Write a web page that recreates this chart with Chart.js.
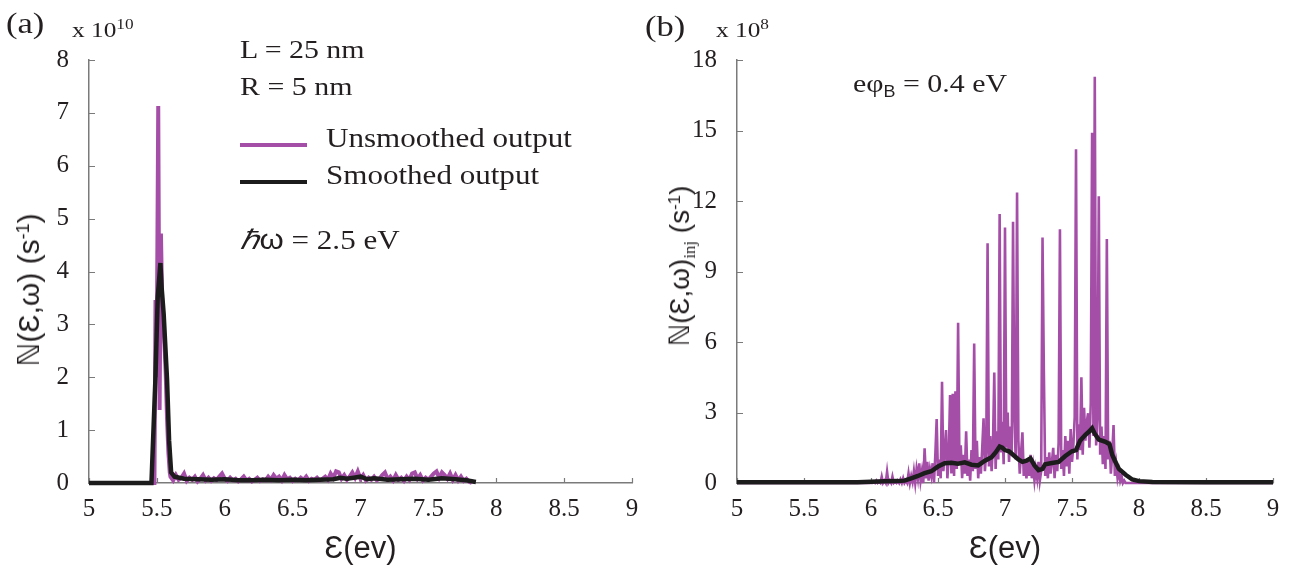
<!DOCTYPE html>
<html>
<head>
<meta charset="utf-8">
<script src="https://cdn.jsdelivr.net/npm/chart.js@4.4.1/dist/chart.umd.min.js"></script>
<style>
  body { margin: 0; background: #fff; }
  #wrap { position: relative; width: 1306px; height: 577px; overflow: hidden; }
  canvas { position: absolute; top: 0; }
  .t { position: absolute; font-family: 'Liberation Serif', 'Times New Roman', serif; color: #231f20;
       white-space: nowrap; line-height: 1; transform-origin: left top; transform: scaleX(1.15); }
  .sans { font-family: 'Liberation Sans', 'DejaVu Sans', sans-serif; }
  .sup { font-size: 60%; position: relative; top: -0.55em; }
  .sub { font-size: 60%; position: relative; top: 0.35em; }
  .yt { position: absolute; font-family: 'Liberation Sans', 'DejaVu Sans', sans-serif; color: #231f20;
        white-space: nowrap; line-height: 1;
        transform: translate(-50%, -50%) rotate(-90deg); }
  .key { position: absolute; height: 4px; width: 67px; }
</style>
</head>
<body>
<div id="wrap">
  <canvas id="left" width="653" height="577" style="left:0"></canvas>
  <canvas id="right" width="653" height="577" style="left:653px"></canvas>

  <div class="t" style="left:6px; top:8px; font-size:30px;">(a)</div>
  <div class="t" style="left:72px; top:19px; font-size:22px;">x 10<span class="sup" style="font-size:15px">10</span></div>
  <div class="t" style="left:240px; top:37px; font-size:26px;">L = 25 nm</div>
  <div class="t" style="left:240px; top:74px; font-size:26px;">R = 5 nm</div>
  <div class="key" style="left:240px; top:143px; background:#a54ea8;"></div>
  <div class="t" style="left:326px; top:125px; font-size:27px;">Unsmoothed output</div>
  <div class="key" style="left:240px; top:180px; background:#1c1c1c;"></div>
  <div class="t" style="left:326px; top:162px; font-size:27px;">Smoothed output</div>
  <div class="t" style="left:240px; top:227px; font-size:27px;"><i>ℏ</i><span class="sans">ω</span> = 2.5 eV</div>
  <div class="yt" style="left:29px; top:290px; font-size:30px;">ℕ(Ɛ,ω) (s<span class="sup">-1</span>)</div>

  <div class="t" style="left:645px; top:11px; font-size:30px;">(b)</div>
  <div class="t" style="left:716px; top:19px; font-size:22px;">x 10<span class="sup" style="font-size:15px">8</span></div>
  <div class="t" style="left:853px; top:71px; font-size:26px;">eφ<span class="sub sans">B</span> = 0.4 eV</div>
  <div class="yt" style="left:680px; top:266px; font-size:28px;">ℕ(Ɛ,ω)<span class="sub" style="font-family:'Liberation Serif',serif">inj</span> (s<span class="sup">-1</span>)</div>
</div>

<script>
// axis ticks
var xTicks = [5, 5.5, 6, 6.5, 7, 7.5, 8, 8.5, 9];
var leftYTicks = [0, 1, 2, 3, 4, 5, 6, 7, 8];
var rightYTicks = [0, 3, 6, 9, 12, 15, 18];

// (a) unsmoothed output, x 10^10 s^-1 -- the main peak near 5.5 eV
var leftPeakE = [5.0, 5.482, 5.49, 5.498, 5.51, 5.52, 5.53, 5.54, 5.55, 5.565, 5.575, 5.585, 5.595];
var leftPeakV = [0, 0, 3.46, 2.0, 7.13, 1.38, 4.72, 3.27, 3.0, 2.07, 1.2, 0.57, 0.2];
// (a) unsmoothed tail, sampled every 0.02 eV from 5.60 eV
var leftTailStart = 5.60, leftTailStep = 0.02;
var leftTail = [
  0.12, 0.05, 0.15, 0.06, 0.1, 0.18, 0.04, 0.1, 0.06, 0.12,
  0.03, 0.08, 0.15, 0.05, 0.1, 0.04, 0.09, 0.06, 0.12, 0.18,
  0.08, 0.04, 0.1, 0.05, 0.08, 0.03, 0.07, 0.12, 0.05, 0.08,
  0.03, 0.06, 0.1, 0.04, 0.07, 0.05, 0.12, 0.06, 0.15, 0.08,
  0.12, 0.05, 0.15, 0.07, 0.1, 0.04, 0.08, 0.05, 0.1, 0.06,
  0.12, 0.04, 0.08, 0.06, 0.1, 0.05, 0.08, 0.12, 0.06, 0.18,
  0.1, 0.22, 0.2, 0.08, 0.15, 0.06, 0.12, 0.2, 0.1, 0.22,
  0.08, 0.15, 0.05, 0.1, 0.06, 0.12, 0.05, 0.08, 0.15, 0.2,
  0.07, 0.12, 0.05, 0.15, 0.06, 0.1, 0.04, 0.12, 0.06, 0.18,
  0.2, 0.08, 0.15, 0.05, 0.1, 0.06, 0.12, 0.18, 0.22, 0.1,
  0.2, 0.15, 0.08, 0.18, 0.06, 0.15, 0.05, 0.12, 0.04, 0.08,
  0.02, 0
];
// (a) smoothed output
var leftSmoothE = [5.0, 5.46, 5.489, 5.506, 5.526, 5.535, 5.55, 5.575, 5.59, 5.605, 5.63, 5.7, 5.8, 5.9,
  6.0, 6.1, 6.2, 6.3, 6.4, 6.5, 6.6, 6.7, 6.8, 6.85, 6.9, 6.95, 7.0, 7.05, 7.1, 7.2, 7.3, 7.4,
  7.5, 7.6, 7.7, 7.78, 7.85];
var leftSmoothV = [0, 0, 1.95, 3.5, 4.16, 3.7, 3.2, 1.95, 0.8, 0.2, 0.12, 0.08, 0.07, 0.06,
  0.07, 0.05, 0.05, 0.06, 0.05, 0.06, 0.05, 0.06, 0.07, 0.1, 0.08, 0.1, 0.12, 0.07, 0.09, 0.06, 0.07, 0.08,
  0.06, 0.09, 0.07, 0.05, 0.02];

// (b) unsmoothed injected output, x 10^8 s^-1, sampled every 0.01 eV from 6.00 eV
var rightRawStart = 6.00, rightRawStep = 0.01;
var rightRaw = [
  0, 0, 0.05, 0, 0.1, 0, 0.05, 0, 0.27, 0,
  0.1, 0, 0.48, 0, 0.1, 0, 0.27, 0, 0.05, 0,
  0.1, 0, 0.15, 0, 0.2, 0, 0.1, 0, 0.41, 0,
  0.3, 0.05, 0.5, 0, 0.6, 0.2, 0.84, 0.1, 0.5, 0,
  1.48, 0.2, 0.9, 0.1, 0.6, 0.3, 0.84, 0, 1.2, 2.72,
  0.3, 1.0, 0.2, 4.31, 0.5, 1.3, 2.25, 0.2, 1.1, 3.74,
  0.4, 3.8, 0.3, 3.9, 0.6, 6.82, 0.8, 1.6, 0.2, 1.2,
  0.4, 2.2, 0.3, 1.0, 0.1, 1.4, 0.5, 5.94, 0.6, 1.8,
  0.2, 1.1, 0.4, 1.5, 2.75, 0.5, 1.3, 10.2, 0.7, 2.0,
  0.5, 1.6, 4.7, 0.6, 2.2, 1.0, 11.45, 1.3, 2.6, 0.8,
  10.87, 1.5, 3.0, 0.9, 2.4, 1.2, 11.12, 2.8, 1.0, 12.36,
  1.8, 0.4, 1.3, 2.16, 0.3, 1.0, 0.2, 0.9, 0.3, 1.2,
  0.2, 0.7, 0.1, 0.6, 0.2, 0.9, 0.1, 0.5, 10.45, 4.8,
  0.3, 1.1, 0.2, 1.3, 0.4, 0.9, 1.5, 0.2, 1.2, 0.5,
  1.7, 10.8, 0.6, 1.4, 0.3, 2.0, 0.7, 1.8, 0.4, 2.3,
  0.9, 1.6, 2.8, 14.2, 1.0, 2.5, 1.4, 4.5, 1.2, 3.2,
  1.8, 2.6, 2.97, 1.5, 3.4, 14.9, 2.0, 17.29, 1.6, 2.8,
  12.2, 1.2, 2.4, 0.8, 2.0, 0.6, 10.38, 1.0, 1.8, 0.4,
  1.2, 2.47, 0.3, 0.8, 0.2, 0.5, 0.1, 0.3, 0, 0.1,
  0
];
// (b) smoothed output
var rightSmoothE = [5.0, 5.5, 5.9, 6.0, 6.1, 6.2, 6.25, 6.3, 6.35, 6.4, 6.45, 6.5, 6.55, 6.6, 6.65,
  6.7, 6.75, 6.8, 6.85, 6.9, 6.93, 6.96, 6.98, 7.0, 7.03, 7.06, 7.1, 7.13, 7.16, 7.19, 7.22, 7.25,
  7.28, 7.3, 7.35, 7.4, 7.45, 7.5, 7.53, 7.56, 7.6, 7.63, 7.65, 7.67, 7.7, 7.75, 7.78, 7.8, 7.82,
  7.85, 7.9, 7.95, 8.0, 8.1, 8.5, 9.0];
var rightSmoothV = [0.03, 0.03, 0.03, 0.05, 0.07, 0.08, 0.1, 0.2, 0.3, 0.42, 0.5, 0.7, 0.84, 0.86, 0.82,
  0.88, 0.78, 0.75, 0.95, 1.1, 1.3, 1.55, 1.5, 1.4, 1.35, 1.2, 1.0, 0.9, 0.95, 1.05, 0.75, 0.55,
  0.6, 0.8, 0.85, 0.9, 1.15, 1.35, 1.4, 1.8, 2.05, 2.2, 2.33, 2.1, 1.85, 1.75, 1.65, 1.2, 0.95,
  0.6, 0.35, 0.15, 0.08, 0.04, 0.03, 0.03];

var purple = '#a54ea8';
var black = '#1c1c1c';
var axisColor = '#7a7a7a';
var textColor = '#231f20';

function pairs(es, vs) {
  return es.map(function (e, i) { return { x: e, y: vs[i] }; });
}
function sampled(start, step, vs) {
  return vs.map(function (v, i) { return { x: +(start + i * step).toFixed(3), y: v }; });
}

var inwardTicks = {
  id: 'inwardTicks',
  beforeDatasetsDraw: function (chart) {
    var ctx = chart.ctx, a = chart.chartArea, x = chart.scales.x, y = chart.scales.y;
    ctx.save();
    ctx.strokeStyle = axisColor;
    ctx.lineWidth = 1.2;
    ctx.beginPath();
    x.ticks.forEach(function (t) {
      var px = Math.round(x.getPixelForValue(t.value)) + 0.5;
      ctx.moveTo(px, a.bottom);
      ctx.lineTo(px, a.bottom - 5);
    });
    y.ticks.forEach(function (t) {
      var py = Math.round(y.getPixelForValue(t.value)) + 0.5;
      ctx.moveTo(a.left, py);
      ctx.lineTo(a.left + 6, py);
    });
    ctx.stroke();
    ctx.restore();
  }
};

function makeChart(id, raw, rawWidth, smooth, yTicks, yMax, pad) {
  return new Chart(document.getElementById(id), {
    type: 'line',
    data: {
      datasets: [{
        label: 'Smoothed output',
        data: smooth,
        borderColor: black,
        borderWidth: 4.5,
        pointRadius: 0,
        tension: 0,
        clip: false
      }, {
        label: 'Unsmoothed output',
        data: raw,
        borderColor: purple,
        borderWidth: rawWidth,
        pointRadius: 0,
        tension: 0,
        clip: false
      }]
    },
    options: {
      responsive: false,
      animation: false,
      devicePixelRatio: 1,
      layout: { padding: pad },
      plugins: { legend: { display: false }, tooltip: { enabled: false } },
      scales: {
        x: {
          type: 'linear',
          min: 5, max: 9,
          afterBuildTicks: function (s) { s.ticks = xTicks.map(function (v) { return { value: v }; }); },
          afterFit: function (s) { s.height = 94; },
          grid: { display: false },
          border: { display: true, color: axisColor, width: 1.5 },
          ticks: {
            color: textColor, padding: 3, maxRotation: 0, autoSkip: false,
            font: { family: "'Liberation Serif', serif", size: 25 },
            callback: function (v) { return String(v); }
          },
          title: {
            display: true, text: 'Ɛ(ev)', color: textColor,
            font: { family: "'Liberation Sans', 'DejaVu Sans', sans-serif", size: 31 },
            padding: { top: 0, bottom: 9 }
          }
        },
        y: {
          min: 0, max: yMax,
          afterBuildTicks: function (s) { s.ticks = yTicks.map(function (v) { return { value: v }; }); },
          afterFit: function (s) { s.width = 60; },
          grid: { display: false },
          border: { display: true, color: axisColor, width: 1.5 },
          ticks: {
            color: textColor, padding: 12, autoSkip: false,
            font: { family: "'Liberation Serif', serif", size: 25 },
            callback: function (v) { return String(v); }
          }
        }
      }
    },
    plugins: [inwardTicks]
  });
}

var leftRaw = pairs(leftPeakE, leftPeakV)
  .concat(sampled(leftTailStart, leftTailStep, leftTail));
var rightRawPts = [{ x: 5, y: 0 }]
  .concat(sampled(rightRawStart, rightRawStep, rightRaw))
  .concat([{ x: 9, y: 0 }]);

makeChart('left', leftRaw, 4, pairs(leftSmoothE, leftSmoothV), leftYTicks, 8,
  { left: 29, right: 21, top: 60, bottom: 0 });
makeChart('right', rightRawPts, 2.6, pairs(rightSmoothE, rightSmoothV), rightYTicks, 18,
  { left: 24, right: 33, top: 60, bottom: 0 });
</script>
</body>
</html>
